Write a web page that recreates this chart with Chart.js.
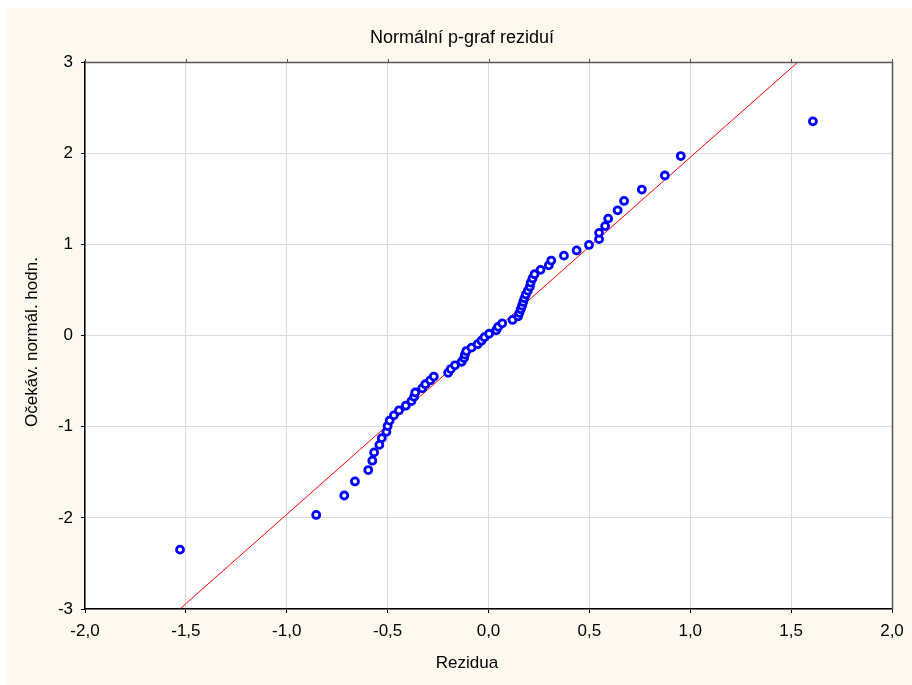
<!DOCTYPE html>
<html>
<head>
<meta charset="utf-8">
<script src="https://cdn.jsdelivr.net/npm/chart.js@4/dist/chart.umd.min.js"></script>
<style>
  html, body { margin: 0; padding: 0; background: #ffffff; }
  #wrap { width: 912px; height: 685px; position: relative; }
  canvas { display: block; }
</style>
</head>
<body>
<div id="wrap"><canvas id="c" width="912" height="685"></canvas></div>
<script>
// ---- Data ----
const chartTitle = 'Normální p-graf reziduí';
const xAxisTitle = 'Rezidua';
const yAxisTitle = 'Očekáv. normál. hodn.';

// residuals (x)
const residuals = [
  -1.529, -0.854, -0.715, -0.662, -0.596, -0.576, -0.567, -0.541, -0.529, -0.506,
  -0.500, -0.490, -0.469, -0.444, -0.410, -0.382, -0.369, -0.363, -0.329, -0.313,
  -0.289, -0.271, -0.200, -0.187, -0.166, -0.133, -0.121, -0.117, -0.110, -0.084,
  -0.054, -0.035, -0.020, 0.003, 0.038, 0.048, 0.068, 0.119, 0.147, 0.153,
  0.160, 0.166, 0.172, 0.178, 0.185, 0.195, 0.205, 0.209, 0.218, 0.228,
  0.258, 0.299, 0.311, 0.374, 0.437, 0.498, 0.548, 0.548, 0.578, 0.593,
  0.640, 0.672, 0.760, 0.874, 0.953, 1.608
];
// expected normal values (y)
const expectedNormal = [
  -2.349, -1.968, -1.755, -1.601, -1.476, -1.373, -1.282, -1.200, -1.126, -1.057,
  -0.993, -0.933, -0.876, -0.822, -0.770, -0.720, -0.672, -0.625, -0.580, -0.535,
  -0.492, -0.450, -0.409, -0.368, -0.327, -0.288, -0.248, -0.210, -0.171, -0.133,
  -0.095, -0.057, -0.019, 0.019, 0.057, 0.095, 0.133, 0.171, 0.210, 0.248,
  0.288, 0.327, 0.368, 0.409, 0.450, 0.492, 0.535, 0.580, 0.625, 0.672,
  0.720, 0.770, 0.822, 0.876, 0.933, 0.993, 1.057, 1.126, 1.200, 1.282,
  1.373, 1.476, 1.601, 1.755, 1.968, 2.349
];
// reference line end points
const lineX = [-1.53, 1.534];
const lineY = [-3, 3];

const xTickValues = [-2, -1.5, -1, -0.5, 0, 0.5, 1, 1.5, 2];
const xTickLabels = ['-2,0', '-1,5', '-1,0', '-0,5', '0,0', '0,5', '1,0', '1,5', '2,0'];
const yTickValues = [-3, -2, -1, 0, 1, 2, 3];
const yTickLabels = ['-3', '-2', '-1', '0', '1', '2', '3'];

// ---- Build datasets ----
const points = residuals.map((x, i) => ({ x: x, y: expectedNormal[i] }));
const linePts = lineX.map((x, i) => ({ x: x, y: lineY[i] }));

const FONT = 'Liberation Sans, Arial, sans-serif';

const decor = {
  id: 'decor',
  beforeDraw(chart) {
    const ctx = chart.ctx;
    const a = chart.chartArea;
    ctx.save();
    ctx.fillStyle = '#ffffff';
    ctx.fillRect(0, 0, chart.width, chart.height);
    ctx.fillStyle = '#fef9ee';
    ctx.fillRect(7, 8, chart.width - 7, chart.height - 8);
    ctx.fillStyle = '#ffffff';
    ctx.fillRect(a.left, a.top, a.right - a.left, a.bottom - a.top);
    ctx.restore();
  },
  afterDraw(chart) {
    const ctx = chart.ctx;
    const a = chart.chartArea;
    ctx.save();
    // frame
    ctx.strokeStyle = '#555555';
    ctx.lineWidth = 1.5;
    ctx.beginPath();
    ctx.moveTo(a.left, a.top + 0.5);
    ctx.lineTo(a.right + 0.5, a.top + 0.5);
    ctx.lineTo(a.right + 0.5, a.bottom);
    ctx.stroke();
    // top ticks
    ctx.lineWidth = 1;
    const xs = chart.scales.x;
    xTickValues.forEach(v => {
      const px = Math.round(xs.getPixelForValue(v)) + 0.5;
      ctx.beginPath();
      ctx.moveTo(px, a.top);
      ctx.lineTo(px, a.top - 3);
      ctx.stroke();
    });
    // texts
    ctx.fillStyle = '#000000';
    ctx.textAlign = 'center';
    ctx.textBaseline = 'middle';
    ctx.font = '18px ' + FONT;
    ctx.fillText(chartTitle, 462, 38);
    ctx.font = '17px ' + FONT;
    ctx.fillText(xAxisTitle, 467, 663);
    ctx.translate(32, 342);
    ctx.rotate(-Math.PI / 2);
    ctx.fillText(yAxisTitle, 0, 0);
    ctx.restore();
  }
};

new Chart(document.getElementById('c'), {
  type: 'scatter',
  data: {
    datasets: [
      {
        label: 'line',
        type: 'line',
        data: linePts,
        borderColor: '#ff0000',
        borderWidth: 1,
        pointRadius: 0,
        fill: false,
        order: 2
      },
      {
        label: 'residuals',
        data: points,
        pointStyle: 'circle',
        pointRadius: 3.5,
        borderColor: '#0000ff',
        backgroundColor: '#ffffff',
        borderWidth: 2.8,
        order: 1
      }
    ]
  },
  plugins: [decor],
  options: {
    responsive: false,
    animation: false,
    devicePixelRatio: 1,
    layout: { padding: { left: 8, top: 62, right: 20, bottom: 8 } },
    plugins: {
      legend: { display: false },
      tooltip: { enabled: false },
      title: { display: false }
    },
    scales: {
      x: {
        type: 'linear',
        min: -2, max: 2,
        afterBuildTicks: (s) => { s.ticks = xTickValues.map(v => ({ value: v })); },
        afterFit: (s) => { s.height = 68; },
        ticks: {
          color: '#000000',
          font: { family: FONT, size: 17 },
          padding: 8,
          maxRotation: 0,
          callback: (v) => { const i = xTickValues.indexOf(v); return i >= 0 ? xTickLabels[i] : ''; }
        },
        grid: { color: '#dcdcdc', lineWidth: 1, tickLength: 4, tickColor: '#000000' },
        border: { color: '#000000', width: 1.5 }
      },
      y: {
        type: 'linear',
        min: -3, max: 3,
        afterBuildTicks: (s) => { s.ticks = yTickValues.map(v => ({ value: v })); },
        afterFit: (s) => { s.width = 77; },
        ticks: {
          color: '#000000',
          font: { family: FONT, size: 17 },
          padding: 8,
          callback: (v) => { const i = yTickValues.indexOf(v); return i >= 0 ? yTickLabels[i] : ''; }
        },
        grid: { color: '#dcdcdc', lineWidth: 1, tickLength: 4, tickColor: '#000000' },
        border: { color: '#000000', width: 1.5 }
      }
    }
  }
});
</script>
</body>
</html>
